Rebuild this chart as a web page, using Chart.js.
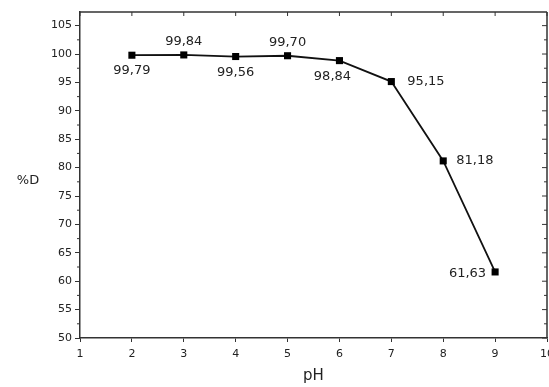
<!DOCTYPE html>
<html>
<head>
<meta charset="utf-8">
<script src="https://cdn.jsdelivr.net/npm/chart.js@4/dist/chart.umd.min.js"></script>
<style>
  html, body { margin: 0; padding: 0; background: #fff; overflow: hidden; }
  #wrap { width: 552px; height: 387px; position: relative; }
</style>
</head>
<body>
<div id="wrap"><canvas id="myChart"></canvas></div>
<script>
const phValues = [2, 3, 4, 5, 6, 7, 8, 9];
const removal = [99.79, 99.84, 99.56, 99.70, 98.84, 95.15, 81.18, 61.63];
const valueLabels = ['99,79', '99,84', '99,56', '99,70', '98,84', '95,15', '81,18', '61,63'];

// where each value label sits relative to its point: [dx, dy, align]
const labelPlace = [
  [0, 15, 'center'], [0, -13, 'center'], [0, 16, 'center'], [0, -13, 'center'],
  [-7, 16, 'center'], [16, 0, 'left'], [13, 0, 'left'], [-9, 2, 'right']
];

const FONT = "'DejaVu Sans', sans-serif";

// frame (top/right), minor ticks, value labels and the horizontal %D title
const framePlugin = {
  id: 'frame',
  afterDraw(chart) {
    const ctx = chart.ctx;
    const a = chart.chartArea;
    const x = chart.scales.x, y = chart.scales.y;
    ctx.save();
    ctx.strokeStyle = '#333';
    ctx.lineWidth = 1.5;
    ctx.beginPath();
    ctx.moveTo(a.left, a.top); ctx.lineTo(a.right, a.top);
    ctx.moveTo(a.right, a.top); ctx.lineTo(a.right, a.bottom);
    ctx.stroke();

    ctx.lineWidth = 1;
    ctx.beginPath();
    // top ticks (inward)
    x.ticks.forEach(t => {
      const px = x.getPixelForValue(t.value);
      ctx.moveTo(px, a.top); ctx.lineTo(px, a.top + 4);
    });
    // right ticks (inward) + left minor ticks
    for (let v = 50; v <= 105; v += 2.5) {
      const py = y.getPixelForValue(v);
      ctx.moveTo(a.right, py); ctx.lineTo(a.right - (v % 5 === 0 ? 5 : 3), py);
      if (v % 5 !== 0) { ctx.moveTo(a.left, py); ctx.lineTo(a.left - 3, py); }
    }
    ctx.stroke();

    // value labels
    const meta = chart.getDatasetMeta(0);
    ctx.fillStyle = '#222';
    ctx.font = '13px ' + FONT;
    ctx.textBaseline = 'middle';
    meta.data.forEach((pt, i) => {
      const p = labelPlace[i];
      ctx.textAlign = p[2];
      ctx.fillText(valueLabels[i], pt.x + p[0], pt.y + p[1]);
    });

    // y title, horizontal
    ctx.font = '13px ' + FONT;
    ctx.textAlign = 'center';
    ctx.fillText('%D', 28, 181);
    ctx.restore();
  }
};

const config = {
  type: 'line',
  data: {
    datasets: [{
      data: phValues.map((v, i) => ({ x: v, y: removal[i] })),
      borderColor: '#111',
      borderWidth: 1.8,
      pointStyle: 'rect',
      pointRadius: 5,
      pointHoverRadius: 5,
      pointBackgroundColor: '#000',
      pointBorderColor: '#000',
      pointBorderWidth: 0,
      tension: 0
    }]
  },
  options: {
    responsive: true,
    maintainAspectRatio: false,
    animation: false,
    layout: { padding: { top: 12, left: 0, right: 0, bottom: 0 } },
    plugins: {
      legend: { display: false },
      tooltip: { enabled: false }
    },
    scales: {
      x: {
        type: 'linear',
        min: 1,
        max: 10,
        ticks: { stepSize: 1, color: '#222', font: { family: FONT, size: 11 }, padding: 6, maxRotation: 0 },
        grid: { drawOnChartArea: false, drawTicks: true, tickLength: 4, color: '#333' },
        border: { color: '#333', width: 1.5 },
        title: { display: true, text: 'pH', color: '#222', font: { family: FONT, size: 15 }, padding: { top: 0, bottom: 2 } },
        afterFit(axis) {
          axis.height = 49;
          axis.paddingLeft = 0;
          axis.paddingRight = 0;
        }
      },
      y: {
        min: 50,
        max: 107.4,
        ticks: { stepSize: 5, color: '#222', font: { family: FONT, size: 11 }, padding: 3 },
        afterBuildTicks(axis) {
          axis.ticks = axis.ticks.filter(t => t.value % 5 === 0);
        },
        grid: { drawOnChartArea: false, drawTicks: true, tickLength: 5, color: '#333' },
        border: { color: '#333', width: 1.5 },
        afterFit(axis) {
          axis.width = 80;
          axis.paddingTop = 0;
          axis.paddingBottom = 0;
        }
      }
    }
  },
  plugins: [framePlugin]
};

const myChart = new Chart(document.getElementById('myChart'), config);
</script>
</body>
</html>
